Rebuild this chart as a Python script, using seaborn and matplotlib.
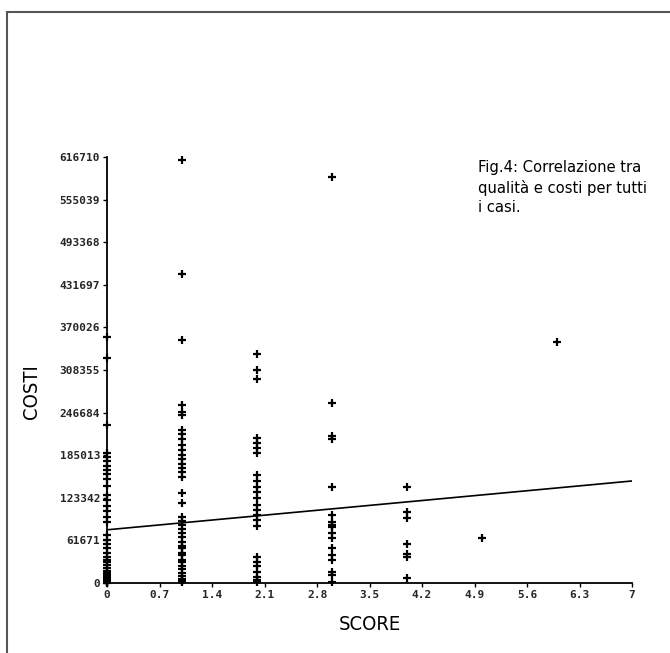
import numpy as np
import pandas as pd
import matplotlib
matplotlib.use("Agg")
import matplotlib.pyplot as plt
from matplotlib.patches import Rectangle
from matplotlib import font_manager
import seaborn as sns

# ---- data ----
costi_score0 = [356000, 326000, 229000, 188000, 182000, 176000, 170000, 164000,
                158000, 150000, 140000, 128000, 120000, 112000, 104000, 96000,
                88000, 70000, 62000, 56000, 50000, 44000, 38000, 34000, 30000,
                26000, 22000, 18000, 15000, 12000, 9000, 6000, 4000, 2000, 1000, 500]
costi_score1 = [612000, 448000, 352000, 257000, 247000, 243000, 222000, 215000,
                208000, 200000, 193000, 186000, 179000, 172000, 166000, 160000,
                154000, 130000, 116000, 96000, 90000, 84000, 78000, 72000, 66000,
                60000, 54000, 50000, 44000, 40000, 34000, 30000, 24000, 20000,
                15000, 10000, 6000, 3000, 1000]
costi_score2 = [332000, 308000, 296000, 210000, 203000, 196000, 188000, 156000,
                147000, 139000, 132000, 123000, 113000, 106000, 98000, 91000,
                82000, 38000, 31000, 24000, 16000, 9000, 5000, 2000]
costi_score3 = [588000, 260000, 213000, 209000, 139000, 98000, 89000, 84000,
                81000, 72000, 65000, 50000, 40000, 33000, 16000, 12000, 2000]
costi_score4 = [139000, 103000, 94000, 57000, 42000, 38000, 7000]
costi_score5 = [65000]
costi_score6 = [349000]

fit_score = [0, 7]
fit_costi = [77000, 147700]

y_ticks = [0, 61671, 123342, 185013, 246684, 308355, 370026, 431697, 493368, 555039, 616710]
x_ticks = [0, 0.7, 1.4, 2.1, 2.8, 3.5, 4.2, 4.9, 5.6, 6.3, 7]
x_tick_labels = ["0", "0.7", "1.4", "2.1", "2.8", "3.5", "4.2", "4.9", "5.6", "6.3", "7"]

caption = "Fig.4: Correlazione tra\nqualità e costi per tutti\ni casi."

# ---- build table ----
groups = [costi_score0, costi_score1, costi_score2, costi_score3,
          costi_score4, costi_score5, costi_score6]
rows = []
for s, vals in enumerate(groups):
    for v in vals:
        rows.append((s, v))
df = pd.DataFrame(rows, columns=["SCORE", "COSTI"])
fit_df = pd.DataFrame({"SCORE": fit_score, "COSTI": fit_costi})

sns.set_theme(style="white")
mono = ["DejaVu Sans Mono", "DejaVu Sans"]

# pick a condensed face if one is installed
cond_path = font_manager.findfont(
    font_manager.FontProperties(family="DejaVu Sans", stretch="condensed"),
    fallback_to_default=True)
if "Condensed" in cond_path:
    label_font = dict(family="DejaVu Sans", stretch="condensed")
    cap_size = 11.8
    lab_size = 14.5
else:
    label_font = dict(family="Liberation Sans")
    cap_size = 10.5
    lab_size = 13

fig = plt.figure(figsize=(6.70, 6.53), dpi=100)
ax = fig.add_axes([107 / 670, 1 - 583 / 653, 525 / 670, 426 / 653])

sns.scatterplot(data=df, x="SCORE", y="COSTI", ax=ax, marker="+", color="black",
                s=28, linewidth=1.6, clip_on=False, zorder=3)
sns.lineplot(data=fit_df, x="SCORE", y="COSTI", ax=ax, color="black", linewidth=1.2)

ax.set_xlim(0, 7)
ax.set_ylim(0, 616710)
ax.set_xticks(x_ticks)
ax.set_xticklabels(x_tick_labels, fontfamily=mono, fontsize=8, fontweight="bold")
ax.set_yticks(y_ticks)
ax.set_yticklabels([str(v) for v in y_ticks], fontfamily=mono, fontsize=8, fontweight="bold")
ax.tick_params(axis="both", direction="out", length=3, width=1, color="black",
               left=True, bottom=True, pad=2)

for side in ["top", "right"]:
    ax.spines[side].set_visible(False)
for side in ["left", "bottom"]:
    ax.spines[side].set_color("black")
    ax.spines[side].set_linewidth(1.3)

ax.set_xlabel("SCORE", fontsize=lab_size, color="black", **label_font)
ax.set_ylabel("COSTI", fontsize=lab_size, color="black", **label_font)
ax.xaxis.set_label_coords(0.50, -0.075)
ax.yaxis.set_label_coords(-0.125, 0.45)

ax.text(478 / 670, 1 - 160 / 653, caption, transform=fig.transFigure,
        fontsize=cap_size, color="black", va="top", ha="left",
        linespacing=1.35, **label_font)

fig.patches.append(Rectangle((7 / 670, -0.1), 1.2, 1.1 - 12 / 653,
                             transform=fig.transFigure, fill=False,
                             edgecolor="#555555", linewidth=1.5))

fig.savefig("out.png", dpi=100)
